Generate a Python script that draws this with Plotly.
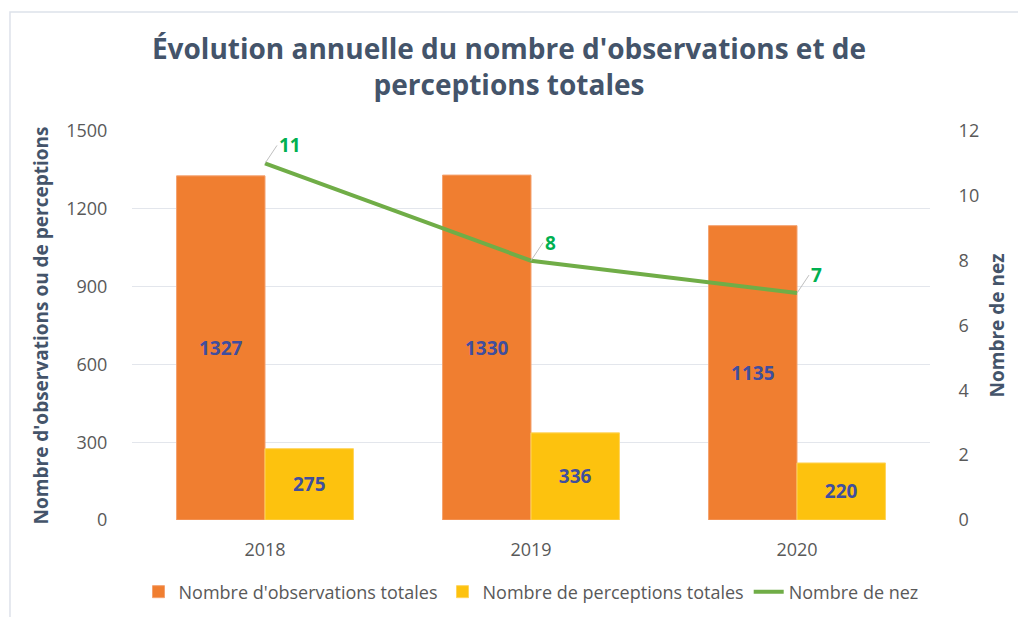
import plotly.graph_objects as go

years = ["2018", "2019", "2020"]
observations = [1327, 1330, 1135]
perceptions = [275, 336, 220]
nez = [11, 8, 7]

title = "Évolution annuelle du nombre d'observations et de<br>perceptions totales"
font_family = "Open Sans, Noto Sans, sans-serif"
label_color = "#404E9E"
tick_color = "#595959"
title_color = "#44546A"

xpos = list(range(len(years)))

fig = go.Figure()
fig.add_trace(go.Bar(
    x=xpos, y=observations, name="Nombre d'observations totales",
    marker=dict(color="#F07E30", line=dict(color="#F4A270", width=1)),
    texttemplate="<b>%{y}</b>", textposition="inside", insidetextanchor="middle",
    textfont=dict(color=label_color, size=19, family=font_family),
))
fig.add_trace(go.Bar(
    x=xpos, y=perceptions, name="Nombre de perceptions totales",
    marker=dict(color="#FDC20E", line=dict(color="#FFD45C", width=1)),
    texttemplate="<b>%{y}</b>", textposition="inside", insidetextanchor="middle",
    textfont=dict(color=label_color, size=19, family=font_family),
))
fig.add_trace(go.Scatter(
    x=xpos, y=nez, name="Nombre de nez", yaxis="y2", mode="lines",
    line=dict(color="#70AD47", width=4),
))

for i, v in zip(xpos, nez):
    fig.add_annotation(
        x=i, y=v, xref="x", yref="y2", text=f"<b>{v}</b>",
        showarrow=True, arrowhead=0, arrowwidth=1, arrowcolor="#BFBFBF",
        ax=12, ay=-18, xanchor="left", yanchor="middle",
        font=dict(color="#00B050", size=19, family=font_family),
    )

fig.update_layout(
    width=1018, height=617,
    margin=dict(l=132, r=88, t=131, b=97, autoexpand=False),
    paper_bgcolor="white", plot_bgcolor="white",
    barmode="group", bargap=0.335, bargroupgap=0,
    font=dict(family=font_family, color=tick_color),
    title=dict(text=f"<b>{title}</b>", x=0.5, xanchor="center", y=0.905, yanchor="middle",
               font=dict(size=28, color=title_color, family=font_family)),
    xaxis=dict(range=[-0.5, len(years) - 0.5], tickvals=xpos, ticktext=years,
               showgrid=False, ticks="outside", ticklen=13, tickcolor="rgba(0,0,0,0)",
               tickfont=dict(size=18, color=tick_color),
               showline=False, zeroline=False),
    yaxis=dict(range=[0, 1500], tickvals=[0, 300, 600, 900, 1200, 1500],
               gridcolor="#E3E6EC", gridwidth=1, zeroline=False, showline=False,
               tickfont=dict(size=18, color=tick_color), ticks="outside", ticklen=20, tickcolor="rgba(0,0,0,0)",
               title=dict(text="<b>Nombre d'observations ou de perceptions</b>",
                          font=dict(size=19, color=title_color), standoff=12)),
    yaxis2=dict(range=[0, 12], tickvals=[0, 2, 4, 6, 8, 10, 12], overlaying="y", side="right",
                showgrid=False, zeroline=False, showline=False,
                tickfont=dict(size=18, color=tick_color), ticks="outside", ticklen=24, tickcolor="rgba(0,0,0,0)",
                title=dict(text="<b>Nombre de nez</b>", font=dict(size=19, color=title_color), standoff=12)),
    legend=dict(orientation="h", x=0.5, xanchor="center", y=-0.185, yanchor="middle",
                bgcolor="rgba(0,0,0,0)",
                font=dict(size=18, color=tick_color), tracegroupgap=0),
    showlegend=True,
)
# light frame (top and left edges visible in the reference)
fig.add_shape(type="path", xref="paper", yref="paper",
              path="M -0.1529,-0.26 L -0.1529,1.306 L 1.12,1.306",
              line=dict(color="#DDE2EA", width=1.5), layer="below")

fig.write_html("out.html", config={"displayModeBar": False},
               post_script="document.body.style.margin='0';")
